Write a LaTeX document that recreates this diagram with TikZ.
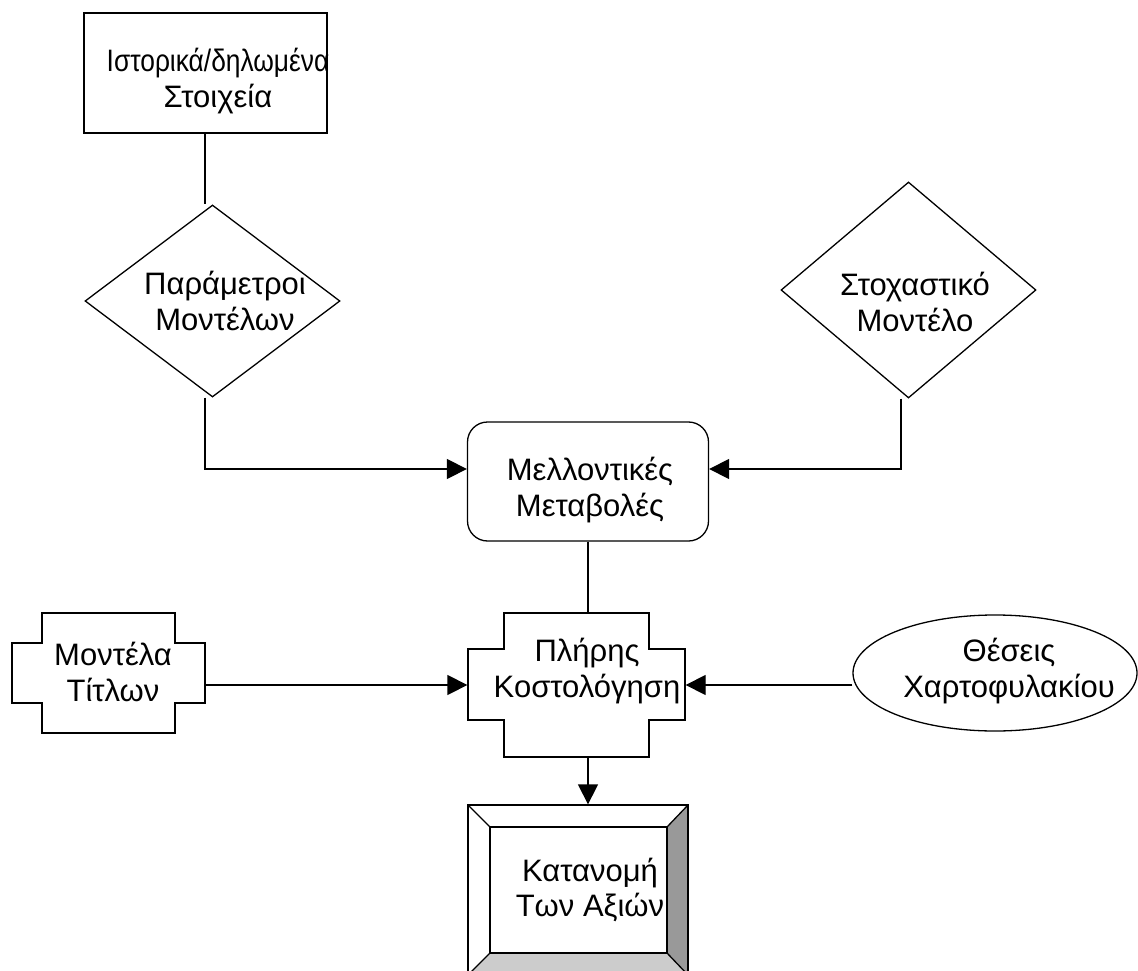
\documentclass[tikz,border=0pt]{standalone}
\usepackage{fontspec}
\setmainfont{Liberation Sans}
\usetikzlibrary{shapes.geometric,arrows.meta}
\definecolor{darkside}{HTML}{999999}
\definecolor{lightside}{HTML}{CCCCCC}
\begin{document}
\begin{tikzpicture}[x=1pt,y=-1pt,line width=1.3pt,
  txt/.style={align=center,font=\fontsize{31}{35.5}\selectfont,inner sep=0pt},
  arr/.style={-{Triangle[length=20pt,width=20pt]}},
  box/.style={draw,rectangle,inner sep=0pt},
  dia/.style={draw,diamond,inner sep=0pt},
  frame/.style={draw=none,rectangle,inner sep=0pt}]
\useasboundingbox (0,0) rectangle (1138,971);

% nodes
\node[box,minimum width=243pt,minimum height=120pt] (hist) at (205.5,73) {};
\node[txt] (histT) at (218,81) {\scalebox{0.85}[1]{Ιστορικά/δηλωμένα}\\Στοιχεία};

\node[dia,minimum width=255pt,minimum height=192pt] (par) at (212.5,301) {};
\node[txt] (parT) at (225,301) {Παράμετροι\\Μοντέλων};

\node[dia,minimum width=255pt,minimum height=216pt] (sto) at (908.5,290) {};
\node[txt] (stoT) at (915,302) {Στοχαστικό\\Μοντέλο};

\node[box,rounded corners=20pt,minimum width=241pt,minimum height=119pt] (fut) at (588,481.5) {};
\node[txt] (futT) at (590,490) {Μελλοντικές\\Μεταβολές};

% cross shapes
\node[frame,minimum width=193pt,minimum height=120pt] (T) at (108.5,673) {};
\draw (42,613) -- (175,613) -- (175,643) -- (205,643) -- (205,703) -- (175,703) -- (175,733)
  -- (42,733) -- (42,703) -- (12,703) -- (12,643) -- (42,643) -- cycle;
\node[txt] (TT) at (113,672) {Μοντέλα\\Τίτλων};

\node[frame,minimum width=217pt,minimum height=144pt] (K) at (576.5,685) {};
\draw (504,613) -- (649,613) -- (649,649) -- (685,649) -- (685,720) -- (649,720) -- (649,757)
  -- (504,757) -- (504,720) -- (468,720) -- (468,649) -- (504,649) -- cycle;
\node[txt] (KT) at (587,671) {Πλήρης\\Κοστολόγηση};

\node[draw,ellipse,inner sep=0pt,minimum width=284pt,minimum height=116pt] (E) at (995,673) {};
\node[txt] (ET) at (1009,671) {Θέσεις\\Χαρτοφυλακίου};

% bevel box
\node[frame,minimum width=220pt,minimum height=170pt] (B) at (578,890) {};
\fill[darkside] (688,805) -- (688,975) -- (667,953) -- (667,827) -- cycle;
\fill[lightside] (468,975) -- (688,975) -- (667,953) -- (490,953) -- cycle;
\draw (468,805) rectangle (688,975);
\draw (490,827) rectangle (667,953);
\draw (468,805) -- (490,827) (688,805) -- (667,827) (468,975) -- (490,953) (688,975) -- (667,953);
\node[txt] (BT) at (590,890) {Κατανομή\\Των Αξιών};

% connectors
\draw ([xshift=-0.5pt]hist.south) coordinate (h1) -- (h1 |- par.north);
\coordinate (f1) at ([yshift=12.5pt]fut.west);
\coordinate (f2) at ([yshift=12.5pt]fut.east);
\draw[arr] (h1 |- par.south) |- (f1);
\draw[arr] ([xshift=-7.5pt]sto.south) |- (f2);
\draw (fut.south) -- (fut.south |- K.north);
\draw[arr] ([yshift=-12pt]T.east) coordinate (tk) -- (tk -| K.west);
\draw[arr] ([yshift=-12pt]E.west) coordinate (ek) -- (ek -| K.east);
\draw[arr] (fut.south |- K.south) -- (fut.south |- B.north);
\end{tikzpicture}
\end{document}
